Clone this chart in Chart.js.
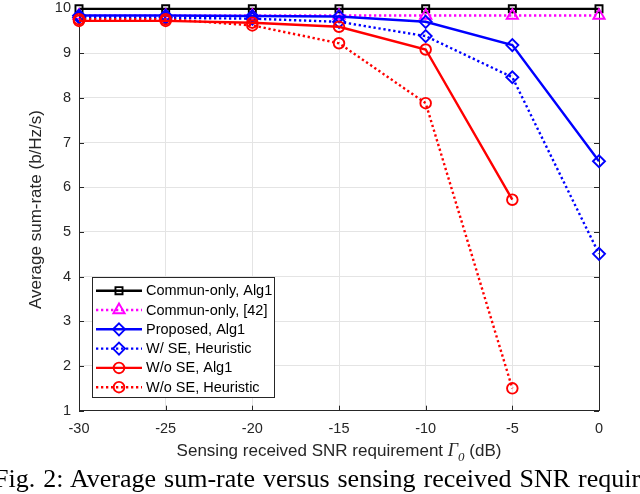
<!DOCTYPE html>
<html><head><meta charset="utf-8">
<script src="https://cdn.jsdelivr.net/npm/chart.js@4.4.1/dist/chart.umd.min.js"></script>
<style>
html,body{margin:0;padding:0;background:#fff;overflow:hidden;}
#wrap{position:relative;width:640px;height:494px;overflow:hidden;background:#fff;}
#c{position:absolute;left:0;top:0;width:640px;height:494px;}
#cap{position:absolute;left:-6px;top:466px;font-family:"Liberation Serif","Times New Roman",serif;font-size:26px;white-space:nowrap;color:#000;line-height:26px;word-spacing:1.5px;}
</style></head><body>
<div id="wrap"><canvas id="c" width="640" height="494"></canvas><div id="cap">Fig. 2: Average sum-rate versus sensing received SNR requirement</div></div>
<script>
// ---- data ----
const snrDb = [-30, -25, -20, -15, -10, -5, 0];
const communOnlyAlg1 = [9.99, 9.99, 9.99, 9.99, 9.99, 9.99, 9.99];
const communOnlyRef42 = [9.84, 9.84, 9.84, 9.84, 9.84, 9.84, 9.84];
const proposedAlg1 = [9.84, 9.84, 9.83, 9.82, 9.70, 9.18, 6.58];
const wSeHeuristic = [9.80, 9.79, 9.77, 9.70, 9.38, 8.46, 4.51];
const woSeAlg1 = [9.72, 9.72, 9.68, 9.59, 9.08, 5.72];
const woSeHeuristic = [9.76, 9.76, 9.62, 9.22, 7.88, 1.50];
const seriesNames = ["Commun-only, Alg1", "Commun-only, [42]", "Proposed, Alg1", "W/ SE, Heuristic", "W/o SE, Alg1", "W/o SE, Heuristic"];
const xTicks = [-30, -25, -20, -15, -10, -5, 0];
const yTicks = [1, 2, 3, 4, 5, 6, 7, 8, 9, 10];
const xTitle = ["Sensing received SNR requirement ", "\u0393", "0", " (dB)"];
const yTitle = "Average sum-rate (b/Hz/s)";

const AX = '#262626';
const DOT = [2.3, 2.7];
function pts(vals) { return vals.map((v, i) => ({x: snrDb[i], y: v})); }
function ds(label, vals, color, dash, style, rad, order) {
  return {
    label, data: pts(vals), borderColor: color, backgroundColor: color,
    borderWidth: 2.4, borderDash: dash, borderCapStyle: 'butt',
    pointStyle: style, pointRadius: rad, pointHoverRadius: rad,
    pointBorderColor: color, pointBackgroundColor: 'rgba(0,0,0,0)', pointBorderWidth: 1.9,
    tension: 0, clip: false, order
  };
}
const datasets = [
  ds(seriesNames[0], communOnlyAlg1, '#000000', [], 'rect', 5, 6),
  ds(seriesNames[1], communOnlyRef42, '#ff00ff', DOT, 'triangle', 6.5, 5),
  ds(seriesNames[2], proposedAlg1, '#0000ff', [], 'rectRot', 6, 4),
  ds(seriesNames[3], wSeHeuristic, '#0000ff', DOT, 'rectRot', 6, 3),
  ds(seriesNames[4], woSeAlg1, '#ff0000', [], 'circle', 5.3, 2),
  ds(seriesNames[5], woSeHeuristic, '#ff0000', DOT, 'circle', 5.3, 1)
];

function marker(ctx, style, r, x, y) {
  ctx.beginPath();
  if (style === 'circle') {
    ctx.arc(x, y, r, 0, Math.PI * 2);
  } else if (style === 'rect') {
    const s = r * Math.SQRT1_2;
    ctx.rect(x - s, y - s, 2 * s, 2 * s);
  } else if (style === 'rectRot') {
    ctx.moveTo(x, y - r); ctx.lineTo(x + r, y); ctx.lineTo(x, y + r); ctx.lineTo(x - r, y); ctx.closePath();
  } else if (style === 'triangle') {
    const k = Math.sin(Math.PI / 3);
    ctx.moveTo(x, y - r);
    ctx.lineTo(x + r * k, y + r * 0.5);
    ctx.lineTo(x - r * k, y + r * 0.5);
    ctx.closePath();
  }
  ctx.stroke();
}

const framePlugin = {
  id: 'frame',
  beforeDatasetsDraw(chart) {
    const {ctx, chartArea: a, scales} = chart;
    ctx.save();
    ctx.strokeStyle = AX; ctx.lineWidth = 1; ctx.setLineDash([]);
    ctx.strokeRect(Math.round(a.left) + 0.5, Math.round(a.top) + 0.5, Math.round(a.right - a.left), Math.round(a.bottom - a.top));
    const tl = 5;
    ctx.beginPath();
    xTicks.forEach(v => {
      const px = Math.round(scales.x.getPixelForValue(v)) + 0.5;
      ctx.moveTo(px, a.bottom); ctx.lineTo(px, a.bottom - tl);
      ctx.moveTo(px, a.top); ctx.lineTo(px, a.top + tl);
    });
    yTicks.forEach(v => {
      const py = Math.round(scales.y.getPixelForValue(v)) + 0.5;
      ctx.moveTo(a.left, py); ctx.lineTo(a.left + tl, py);
      ctx.moveTo(a.right, py); ctx.lineTo(a.right - tl, py);
    });
    ctx.stroke();
    ctx.restore();
  },
  afterDraw(chart) {
    const {ctx, chartArea: a} = chart;
    ctx.save();
    // x-axis title with italic Gamma and subscript 0
    const f1 = '17px "Liberation Sans", Arial, sans-serif';
    const f2 = 'italic 18px "Liberation Serif", "Times New Roman", serif';
    const f3 = 'italic 13px "Liberation Serif", "Times New Roman", serif';
    const parts = [[xTitle[0], f1, 0], [xTitle[1], f2, 0], [xTitle[2], f3, 5], [xTitle[3], f1, 0]];
    let total = 0;
    parts.forEach(p => { ctx.font = p[1]; p.push(ctx.measureText(p[0]).width); total += p[3]; });
    let x = (a.left + a.right) / 2 - total / 2;
    const y = 456;
    ctx.fillStyle = AX; ctx.textBaseline = 'alphabetic'; ctx.textAlign = 'left';
    parts.forEach(p => { ctx.font = p[1]; ctx.fillText(p[0], x, y + p[2]); x += p[3]; });

    // legend
    const L = 92, T = 277, R = 274, B = 397;
    ctx.fillStyle = '#ffffff';
    ctx.fillRect(L, T, R - L, B - T);
    ctx.strokeStyle = AX; ctx.lineWidth = 1; ctx.setLineDash([]);
    ctx.strokeRect(L + 0.5, T + 0.5, R - L, B - T);
    const rowY = [290.7, 310, 329.3, 348.6, 367.9, 387.2];
    chart.data.datasets.forEach((d, i) => {
      const yy = rowY[i];
      ctx.strokeStyle = d.borderColor; ctx.lineWidth = d.borderWidth; ctx.lineCap = 'butt';
      ctx.setLineDash(d.borderDash);
      ctx.beginPath(); ctx.moveTo(96, yy); ctx.lineTo(142, yy); ctx.stroke();
      ctx.setLineDash([]); ctx.lineWidth = d.pointBorderWidth;
      marker(ctx, d.pointStyle, d.pointRadius, 119, yy);
      ctx.fillStyle = '#000'; ctx.font = '14.5px "Liberation Sans", Arial, sans-serif';
      ctx.textBaseline = 'middle';
      ctx.fillText(d.label, 146, yy + 0.5);
    });
    ctx.restore();
  }
};

new Chart(document.getElementById('c'), {
  type: 'line',
  data: {datasets},
  options: {
    responsive: false, animation: false, devicePixelRatio: 1,
    layout: {padding: {top: 5.7, right: 41, left: 0, bottom: 0}},
    plugins: {legend: {display: false}, tooltip: {enabled: false}},
    elements: {line: {tension: 0}},
    scales: {
      x: {
        type: 'linear', min: -30, max: 0,
        afterBuildTicks: s => { s.ticks = xTicks.map(v => ({value: v})); },
        afterFit: s => { s.height = 83.3; s.paddingLeft = 0; s.paddingRight = 0; },
        grid: {color: '#e4e4e4', lineWidth: 1, drawTicks: false},
        border: {display: false},
        ticks: {color: AX, font: {family: '"Liberation Sans", Arial, sans-serif', size: 14.5}, padding: 10, maxRotation: 0, autoSkip: false},
        title: {display: false}
      },
      y: {
        type: 'linear', min: 1, max: 10,
        afterBuildTicks: s => { s.ticks = yTicks.map(v => ({value: v})); },
        afterFit: s => { s.width = 79; s.paddingTop = 0; s.paddingBottom = 0; },
        grid: {color: '#e4e4e4', lineWidth: 1, drawTicks: false},
        border: {display: false},
        ticks: {color: AX, font: {family: '"Liberation Sans", Arial, sans-serif', size: 14.5}, padding: 8, autoSkip: false},
        title: {display: true, text: yTitle, color: AX, font: {family: '"Liberation Sans", Arial, sans-serif', size: 17}, padding: {top: 26, bottom: 0}}
      }
    }
  },
  plugins: [framePlugin]
});
</script>
</body></html>
